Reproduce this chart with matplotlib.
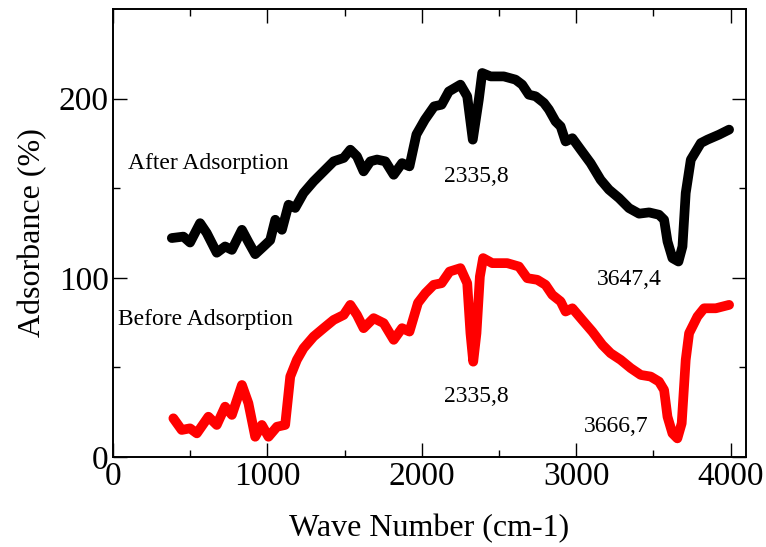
import numpy as np
import matplotlib.pyplot as plt

plt.rcParams['font.family'] = ['Liberation Serif', 'DejaVu Serif']

# After adsorption (black)
wn_after = [381, 456, 499, 564, 607, 672, 726, 770, 835, 877, 921, 975, 1018, 1051,
            1094, 1137, 1180, 1234, 1299, 1364, 1429, 1494, 1537, 1580, 1623, 1667,
            1710, 1764, 1818, 1872, 1920, 1965, 2020, 2080, 2128, 2175, 2250, 2294,
            2330, 2369, 2391, 2445, 2531, 2607, 2650, 2693, 2737, 2791, 2823, 2866,
            2899, 2931, 2975, 3029, 3093, 3158, 3212, 3277, 3342, 3407, 3472, 3536,
            3569, 3591, 3623, 3662, 3688, 3709, 3742, 3807, 3850, 3925, 3990]
abs_after = [122.2, 123, 119.7, 130.5, 125, 114, 117.5, 115.6, 126.8, 120, 113.2, 117.5,
             121, 132.4, 126.8, 140.8, 139, 147.3, 153.8, 159.4, 165, 166.9, 171.5,
             167.8, 159.4, 165, 166, 165, 157.5, 164, 162.2, 180, 188.3, 195.7, 196.6,
             204, 207.8, 201.3, 177.1, 199.4, 214.3, 212.4, 212.4, 210.6, 207.8, 202.2,
             201.3, 197.6, 193.9, 187.3, 184.5, 176.1, 177.9, 171.5, 164, 154.7, 149.2,
             144.5, 138.9, 135.8, 136.5, 135.2, 132.4, 120.3, 111, 109.1, 117.5, 147.3,
             165.9, 175.2, 177.1, 179.9, 182.7]

# Before adsorption (red)
wn_before = [391, 445, 499, 543, 618, 672, 726, 770, 835, 877, 921, 964, 1007, 1062,
             1115, 1148, 1191, 1234, 1299, 1364, 1429, 1494, 1537, 1580, 1623, 1688,
             1753, 1818, 1872, 1920, 1975, 2023, 2077, 2128, 2180, 2250, 2294, 2315,
             2333, 2354, 2376, 2397, 2456, 2553, 2629, 2683, 2748, 2801, 2845, 2899,
             2931, 2975, 3039, 3104, 3169, 3223, 3288, 3353, 3418, 3482, 3536, 3569,
             3591, 3623, 3655, 3683, 3709, 3731, 3785, 3828, 3904, 3990]
abs_before = [21.6, 15.1, 16, 13.2, 22.5, 17.9, 28.1, 23.5, 40.2, 30, 11.3, 17.9, 11.3,
              16.9, 17.9, 44.9, 54.2, 60.7, 67.2, 71.9, 76.5, 79.3, 84.9, 79.3, 71.9,
              77.5, 74.7, 65.4, 71.9, 70, 86, 91.4, 96.1, 97, 103.5, 105.4, 97, 69.1,
              53.2, 69.1, 100.7, 111, 108.2, 108.2, 106.3, 99.8, 98.9, 96.1, 90.5, 86.8,
              81.2, 83, 76.5, 70, 62.6, 57.9, 54.2, 49.6, 45.8, 44.9, 42.1, 37.4, 22.5,
              13.2, 10.4, 18.8, 54.2, 69.1, 78.4, 83, 83, 84.9]

fig = plt.figure(figsize=(7.66, 5.47), dpi=100)
ax = fig.add_axes([0.1475, 0.1645, 0.8265, 0.819])

ax.plot(wn_after, abs_after, color='black', linewidth=7,
        solid_capstyle='round', solid_joinstyle='round')
ax.plot(wn_before, abs_before, color='#ff0000', linewidth=7,
        solid_capstyle='round', solid_joinstyle='round')

# Text labels
ax.text(97, 164, "After Adsorption", fontsize=17, va='center', ha='left')
ax.text(32, 76.5, "Before Adsorption", fontsize=17, va='center', ha='left')
ax.text(2354, 156.4, "2335,8", fontsize=17, va='center', ha='center')
ax.text(3346, 98.9, "3647,4", fontsize=17, va='center', ha='center')
ax.text(2354, 33.5, "2335,8", fontsize=17, va='center', ha='center')
ax.text(3259, 16.8, "3666,7", fontsize=17, va='center', ha='center')

ax.set_xlim(0, 4100)
ax.set_ylim(0, 250)
ax.set_xticks([0, 1000, 2000, 3000, 4000])
ax.set_xticks(np.arange(500, 4100, 1000), minor=True)
ax.set_yticks([0, 100, 200])
ax.set_yticks([50, 150], minor=True)
ax.tick_params(which='both', direction='in', top=True, right=True, width=1)
ax.tick_params(which='major', length=10, labelsize=24, pad=3)
ax.tick_params(which='minor', length=5)
for s in ax.spines.values():
    s.set_linewidth(1.4)

ax.set_xlabel("Wave Number (cm-1)", fontsize=23, labelpad=16)
ax.set_ylabel("Adsorbance (%)", fontsize=23, labelpad=8)

plt.savefig("out.png", dpi=100)
